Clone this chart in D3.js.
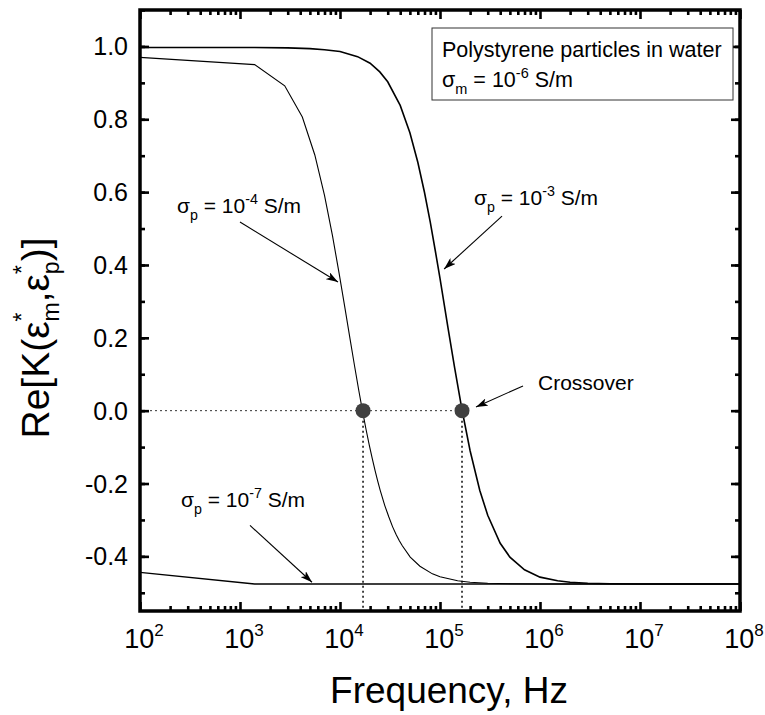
<!DOCTYPE html>
<html>
<head>
<meta charset="utf-8">
<script src="https://cdn.jsdelivr.net/npm/d3@7/dist/d3.min.js"></script>
<style>
  html, body { margin: 0; padding: 0; background: #fff; }
  svg { display: block; }
  text { font-family: "Liberation Sans", Arial, Helvetica, sans-serif; fill: #000; }
</style>
</head>
<body>
<svg id="chart" width="765" height="715"></svg>
<script>
// ---------------- data ----------------
// sigma_p = 1e-3 S/m
const freq1 = [1e2, 1.4e3, 3e3, 5e3, 7e3, 1e4, 1.5e4, 2e4, 2.5e4, 3e4, 4e4, 5e4, 6e4, 7e4, 8e4, 9e4, 1e5, 1.2e5, 1.4e5, 1.66e5, 2e5, 2.5e5, 3e5, 4e5, 5e5, 7e5, 1e6, 1.5e6, 2e6, 3e6, 5e6, 1e7, 1e8];
const reK1  = [0.997, 0.997, 0.996, 0.994, 0.991, 0.986, 0.972, 0.954, 0.930, 0.903, 0.838, 0.763, 0.682, 0.599, 0.517, 0.437, 0.363, 0.229, 0.118, 0.002, -0.110, -0.219, -0.287, -0.364, -0.402, -0.437, -0.457, -0.467, -0.471, -0.474, -0.475, -0.476, -0.476];
// sigma_p = 1e-4 S/m
const freq2 = [1e2, 1.4e3, 2.8e3, 4.2e3, 5.6e3, 7.0e3, 8.4e3, 9.8e3, 1.12e4, 1.26e4, 1.4e4, 1.54e4, 1.68e4, 1.82e4, 1.96e4, 2.1e4, 2.24e4, 2.38e4, 2.52e4, 2.8e4, 3.08e4, 3.36e4, 3.64e4, 3.92e4, 4.2e4, 5.04e4, 6.3e4, 8.4e4, 1e5, 1.5e5, 2e5, 3e5, 5e5, 1e6, 1e8];
const reK2  = [0.970, 0.950, 0.892, 0.806, 0.702, 0.591, 0.481, 0.377, 0.282, 0.197, 0.122, 0.056, -0.001, -0.051, -0.094, -0.131, -0.164, -0.193, -0.218, -0.260, -0.292, -0.319, -0.340, -0.357, -0.371, -0.402, -0.427, -0.448, -0.456, -0.467, -0.471, -0.474, -0.475, -0.476, -0.476];
// sigma_p = 1e-7 S/m
const freq3 = [1e2, 1.4e3, 1e4, 1e5, 1e6, 1e7, 1e8];
const reK3  = [-0.444, -0.476, -0.476, -0.476, -0.476, -0.476, -0.476];
// crossover points
const crossFreq = [1.7e4, 1.66e5];
const crossVal  = [0, 0];
// ticks
const yTicks = [-0.4, -0.2, 0.0, 0.2, 0.4, 0.6, 0.8, 1.0];
const yTickLabels = ["-0.4", "-0.2", "0.0", "0.2", "0.4", "0.6", "0.8", "1.0"];
const xExponents = [2, 3, 4, 5, 6, 7, 8];

// ---------------- layout ----------------
const L = 140, R = 740, T = 10, B = 611;
const svg = d3.select("#chart");
const x = d3.scaleLog().domain([1e2, 1e8]).range([L, R]);
const y = d3.scaleLinear().domain([-0.55, 1.1]).range([B, T]);

svg.append("defs").append("marker")
  .attr("id", "arrow").attr("viewBox", "0 0 12 8")
  .attr("refX", 12).attr("refY", 4)
  .attr("markerWidth", 12).attr("markerHeight", 8)
  .attr("markerUnits", "userSpaceOnUse").attr("orient", "auto")
  .append("path").attr("d", "M0,0 L12,4 L0,8 L3,4 Z").attr("fill", "#000");

// dotted guide lines
const gGuide = svg.append("g").attr("stroke", "#333").attr("stroke-dasharray", "2,3").attr("fill", "none");
gGuide.append("line").attr("x1", x(1e2)).attr("x2", x(crossFreq[1])).attr("y1", y(0)).attr("y2", y(0)).attr("stroke-width", 1);
crossFreq.forEach(f => {
  gGuide.append("line").attr("x1", x(f)).attr("x2", x(f)).attr("y1", y(0)).attr("y2", B).attr("stroke-width", 1.8);
});

// curves
const line = d3.line().x(d => x(d[0])).y(d => y(d[1]));
const series = [
  {f: freq1, v: reK1, w: 1.6},
  {f: freq2, v: reK2, w: 1.1},
  {f: freq3, v: reK3, w: 1.4}
];
series.forEach(s => {
  svg.append("path").datum(s.f.map((f, i) => [f, s.v[i]]))
    .attr("d", line).attr("fill", "none").attr("stroke", "#000").attr("stroke-width", s.w);
});

// crossover dots
svg.selectAll("circle.cross").data(crossFreq.map((f, i) => [f, crossVal[i]])).enter()
  .append("circle").attr("class", "cross")
  .attr("cx", d => x(d[0])).attr("cy", d => y(d[1])).attr("r", 7.5).attr("fill", "#404040");

// ---------------- axes ----------------
const majorLen = 9, minorLen = 5, tickW = 2.6;
const yMinor = d3.range(-0.5, 1.101, 0.1).map(v => Math.round(v * 10) / 10);
const xMinor = [];
for (let e = 2; e < 8; e++) for (let m = 2; m <= 9; m++) xMinor.push(m * Math.pow(10, e));
const xMajor = xExponents.map(e => Math.pow(10, e));

function addAxis(axisGen, transform) {
  const g = svg.append("g").attr("transform", transform).call(axisGen);
  g.select(".domain").remove();
  g.selectAll(".tick line").attr("stroke", "#000").attr("stroke-width", tickW);
  g.selectAll(".tick text").remove();
  return g;
}
addAxis(d3.axisRight(y).tickValues(yMinor).tickSize(minorLen), `translate(${L},0)`);
addAxis(d3.axisRight(y).tickValues(yTicks).tickSize(majorLen), `translate(${L},0)`);
addAxis(d3.axisLeft(y).tickValues(yMinor).tickSize(minorLen), `translate(${R},0)`);
addAxis(d3.axisLeft(y).tickValues(yTicks).tickSize(majorLen), `translate(${R},0)`);
addAxis(d3.axisTop(x).tickValues(xMinor).tickSize(minorLen), `translate(0,${B})`);
addAxis(d3.axisTop(x).tickValues(xMajor).tickSize(majorLen), `translate(0,${B})`);
addAxis(d3.axisBottom(x).tickValues(xMinor).tickSize(minorLen), `translate(0,${T})`);
addAxis(d3.axisBottom(x).tickValues(xMajor).tickSize(majorLen), `translate(0,${T})`);

// frame
svg.append("rect").attr("x", L).attr("y", T).attr("width", R - L).attr("height", B - T)
  .attr("fill", "none").attr("stroke", "#000").attr("stroke-width", 3.5);

// y tick labels
svg.selectAll("text.ylab").data(yTicks).enter().append("text").attr("class", "ylab")
  .attr("x", L - 12).attr("y", d => y(d)).attr("dy", "0.36em")
  .attr("text-anchor", "end").attr("font-size", 25)
  .text((d, i) => yTickLabels[i]);

// x tick labels 10^n
xExponents.forEach(e => {
  const t = svg.append("text").attr("x", x(Math.pow(10, e)) + 4).attr("y", 648)
    .attr("text-anchor", "middle").attr("font-size", 27);
  t.append("tspan").text("10");
  t.append("tspan").attr("font-size", 17).attr("dy", -12).text(String(e));
});

// axis titles
svg.append("text").attr("x", 449).attr("y", 703).attr("text-anchor", "middle")
  .attr("font-size", 37).text("Frequency, Hz");

const yt = svg.append("text").attr("transform", "translate(49,338) rotate(-90)")
  .attr("text-anchor", "middle").attr("font-size", 39);
yt.append("tspan").text("Re[K(ε");
yt.append("tspan").attr("font-size", 23).attr("dy", -19).text("*");
yt.append("tspan").attr("font-size", 23).attr("dx", -9).attr("dy", 29).text("m");
yt.append("tspan").attr("dy", -10).text(",ε");
yt.append("tspan").attr("font-size", 23).attr("dy", -19).text("*");
yt.append("tspan").attr("font-size", 23).attr("dx", -9).attr("dy", 29).text("p");
yt.append("tspan").attr("dy", -10).text(")]");

// ---------------- annotations ----------------
function sigmaLabel(px, py, sub, exp, fs) {
  const t = svg.append("text").attr("x", px).attr("y", py).attr("font-size", fs);
  t.append("tspan").text("σ");
  t.append("tspan").attr("font-size", fs * 0.68).attr("dy", 7).text(sub);
  t.append("tspan").attr("dy", -7).text(" = 10");
  t.append("tspan").attr("font-size", fs * 0.68).attr("dy", -9).text(exp);
  t.append("tspan").attr("dy", 9).text(" S/m");
}
function arrow(f1, v1, f2, v2) {
  svg.append("line").attr("x1", x(f1)).attr("y1", y(v1)).attr("x2", x(f2)).attr("y2", y(v2))
    .attr("stroke", "#000").attr("stroke-width", 1.1).attr("marker-end", "url(#arrow)");
}
sigmaLabel(177, 213, "p", "-4", 21);
arrow(1e3, 0.518, 9550, 0.353);
sigmaLabel(474, 205, "p", "-3", 21);
arrow(4.17e5, 0.534, 1.1e5, 0.389);
sigmaLabel(181, 507, "p", "-7", 21);
arrow(1259, -0.315, 5250, -0.471);
svg.append("text").attr("x", 538).attr("y", 390).attr("font-size", 21).text("Crossover");
arrow(6.76e5, 0.068, 2.29e5, 0.01);

// legend box
svg.append("rect").attr("x", 432).attr("y", 28).attr("width", 301).attr("height", 72)
  .attr("fill", "#fff").attr("stroke", "#333").attr("stroke-width", 1);
svg.append("text").attr("x", 442).attr("y", 57).attr("font-size", 21.5).text("Polystyrene particles in water");
const lt = svg.append("text").attr("x", 442).attr("y", 87).attr("font-size", 21.5);
lt.append("tspan").text("σ");
lt.append("tspan").attr("font-size", 14.5).attr("dy", 7).text("m");
lt.append("tspan").attr("dy", -7).text(" = 10");
lt.append("tspan").attr("font-size", 14.5).attr("dy", -9).text("-6");
lt.append("tspan").attr("dy", 9).text(" S/m");
</script>
</body>
</html>
